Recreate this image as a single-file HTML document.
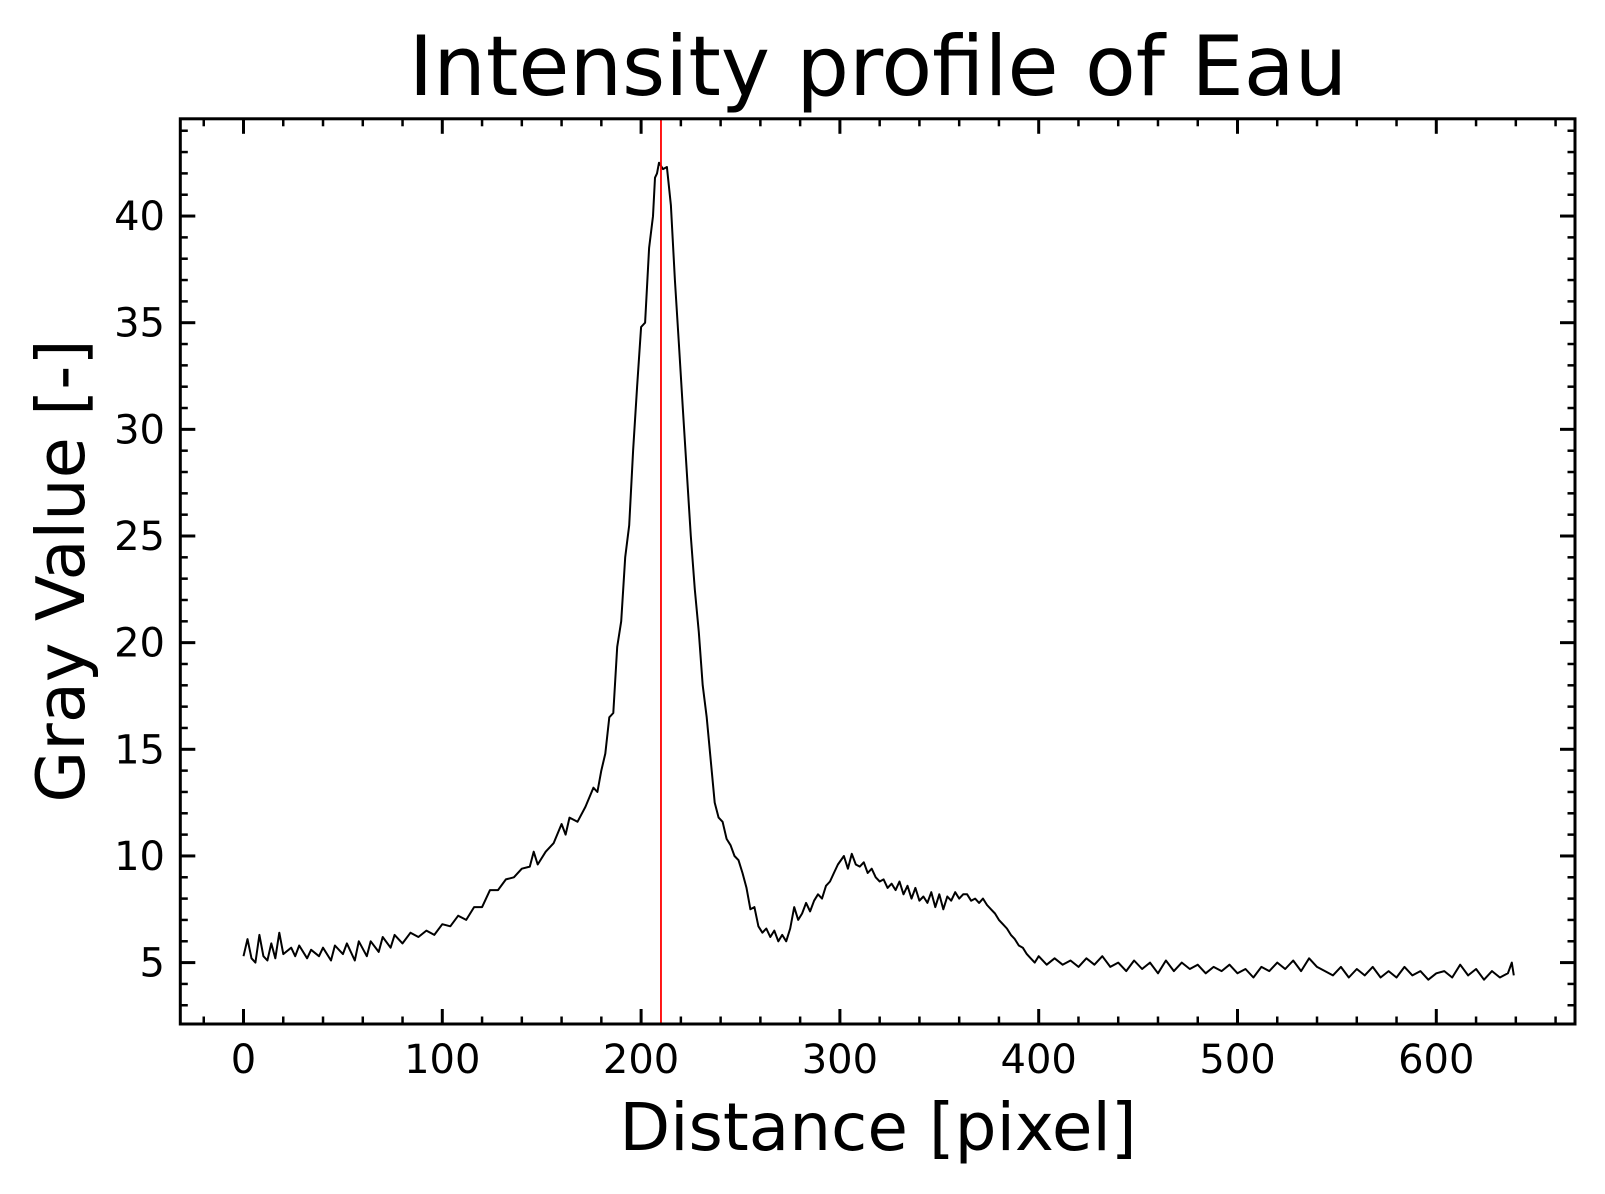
<!DOCTYPE html>
<html><head><meta charset="utf-8">
<style>
html,body{margin:0;padding:0;background:#fff;}
svg{display:block;font-family:"DejaVu Sans","Liberation Sans",sans-serif;}
</style></head>
<body>
<svg id="chart" width="1605" height="1194" viewBox="0 0 1605 1194" xmlns="http://www.w3.org/2000/svg">
<rect width="1605" height="1194" fill="#fff"/>
<text x="878" y="95" font-size="83" text-anchor="middle">Intensity profile of Eau</text>
<text x="878" y="1150" font-size="66" text-anchor="middle">Distance [pixel]</text>
<text transform="translate(84,571) rotate(-90)" font-size="67" text-anchor="middle">Gray Value [-]</text>
<g id="ticks"></g>
<g id="plot"></g>
<rect x="180.3" y="118.8" width="1394.7" height="905.2" fill="none" stroke="#000" stroke-width="3"/>
</svg>
<script>
// Data: distance (pixel) and gray value samples
const distances = [
0,2,4,6,8,10,12,14,16,18,20,24,26,28,32,34,38,40,44,46,50,52,56,58,62,64,68,70,74,76,80,84,88,92,96,
100,104,108,112,116,120,124,128,132,136,140,144,146,148,152,156,160,162,164,168,172,176,178,180,182,184,186,188,190,192,194,196,198,
200,202,204,206,207,208,209,211,213,
215,217,219,221,223,225,227,229,231,233,235,237,239,241,243,245,247,249,251,253,255,257,259,261,263,265,267,269,271,273,275,277,279,281,283,285,287,289,291,293,295,297,299,
302,304,306,308,310,312,314,316,318,320,322,324,326,328,
330,332,334,336,338,340,342,344,346,348,350,352,354,356,358,360,362,
364,366,368,370,372,374,376,378,380,382,384,386,388,390,392,394,396,398,
400,404,408,412,416,420,424,428,432,436,440,444,448,452,456,460,464,468,472,476,480,484,488,492,496,500,504,508,512,516,520,524,528,532,536,
540,544,548,552,556,560,564,568,572,576,580,584,588,592,596,600,604,608,612,616,620,624,628,632,636,638,639
];
const grayValues = [
5.3,6.1,5.2,5.0,6.3,5.3,5.1,5.9,5.2,6.4,5.4,5.7,5.3,5.8,5.2,5.6,5.3,5.7,5.1,5.8,5.4,5.9,5.1,6.0,5.3,6.0,5.5,6.2,5.7,6.3,5.9,6.4,6.2,6.5,6.3,
6.8,6.7,7.2,7.0,7.6,7.6,8.4,8.4,8.9,9.0,9.4,9.5,10.2,9.6,10.2,10.6,11.5,11.0,11.8,11.6,12.3,13.2,13.0,14.0,14.8,16.5,16.7,19.8,21.0,24.0,25.5,29.0,32.0,
34.8,35.0,38.5,40.0,41.8,42.0,42.5,42.2,42.3,
40.5,37.0,34.0,31.0,28.0,25.0,22.5,20.5,18.0,16.5,14.5,12.5,11.8,11.6,10.8,10.5,10.0,9.8,9.2,8.5,7.5,7.6,6.7,6.4,6.6,6.2,6.5,6.0,6.3,6.0,6.6,7.6,7.0,7.3,7.8,7.4,7.9,8.2,8.0,8.6,8.8,9.2,9.6,
10.0,9.4,10.1,9.6,9.5,9.7,9.2,9.4,9.0,8.8,8.9,8.5,8.7,8.4,
8.8,8.2,8.6,8.0,8.5,7.9,8.1,7.8,8.3,7.6,8.2,7.5,8.1,7.9,8.3,8.0,8.2,
8.2,7.9,8.0,7.8,8.0,7.7,7.5,7.3,7.0,6.8,6.6,6.3,6.1,5.8,5.7,5.4,5.2,5.0,
5.3,4.9,5.2,4.9,5.1,4.8,5.2,4.9,5.3,4.8,5.0,4.6,5.1,4.7,5.0,4.5,5.1,4.6,5.0,4.7,4.9,4.5,4.8,4.6,4.9,4.5,4.7,4.3,4.8,4.6,5.0,4.7,5.1,4.6,5.2,
4.8,4.6,4.4,4.8,4.3,4.7,4.4,4.8,4.3,4.6,4.3,4.8,4.4,4.6,4.2,4.5,4.6,4.3,4.9,4.4,4.7,4.2,4.6,4.3,4.5,5.0,4.4
];
const markerX = 210;
const xTicks = [0,100,200,300,400,500,600];
const yTicks = [5,10,15,20,25,30,35,40];

const L=180.3,R=1575,T=118.8,B=1024;
const xPx = v => 243.5 + v*1.988;
const yPx = v => 962.6 - (v-5)*21.33;
const svgNS="http://www.w3.org/2000/svg";
const ticks=document.getElementById('ticks');
const plot=document.getElementById('plot');
function ln(g,x1,y1,x2,y2,w,c){const l=document.createElementNS(svgNS,'line');
l.setAttribute('x1',x1);l.setAttribute('y1',y1);l.setAttribute('x2',x2);l.setAttribute('y2',y2);
l.setAttribute('stroke',c||'#000');l.setAttribute('stroke-width',w);g.appendChild(l);return l;}
for(let v=-20;v<=660;v+=20){const x=xPx(v);if(x<L||x>R)continue;
 const major=v%100===0;const len=major?15:7.5;const w=major?3:2.5;
 const a=ln(ticks,x,B,x,B-len,w);
 
 
 const b=ln(ticks,x,T,x,T+len,w);
 
 }
xTicks.forEach(v=>{const t=document.createElementNS(svgNS,'text');
 t.setAttribute('x',xPx(v));t.setAttribute('y',1073);t.setAttribute('font-size','40');t.setAttribute('text-anchor','middle');
 t.textContent=v;
 
 
 ticks.appendChild(t);});
for(let v=3;v<=44;v++){const y=yPx(v);if(y<T||y>B)continue;
 const major=v%5===0;const len=major?15:7.5;const w=major?3:2.5;
 const a=ln(ticks,L,y,L+len,y,w);
 
 
 const b=ln(ticks,R,y,R-len,y,w);
 
 }
yTicks.forEach(v=>{const t=document.createElementNS(svgNS,'text');
 t.setAttribute('x',165);t.setAttribute('y',yPx(v)+14);t.setAttribute('font-size','40');t.setAttribute('text-anchor','end');
 t.textContent=v;
 
 
 ticks.appendChild(t);});
const n=Math.min(distances.length,grayValues.length);
let pts=[];
for(let i=0;i<n;i++){pts.push(xPx(distances[i]).toFixed(1)+','+yPx(grayValues[i]).toFixed(1));}
const pl=document.createElementNS(svgNS,'polyline');
pl.setAttribute('points',pts.join(' '));
pl.setAttribute('fill','none');pl.setAttribute('stroke','#000');pl.setAttribute('stroke-width','2');pl.setAttribute('stroke-linejoin','round');


plot.appendChild(pl);
const m=ln(plot,xPx(markerX),T,xPx(markerX),B,1.8,'#ff0000');


</script>
</body></html>
